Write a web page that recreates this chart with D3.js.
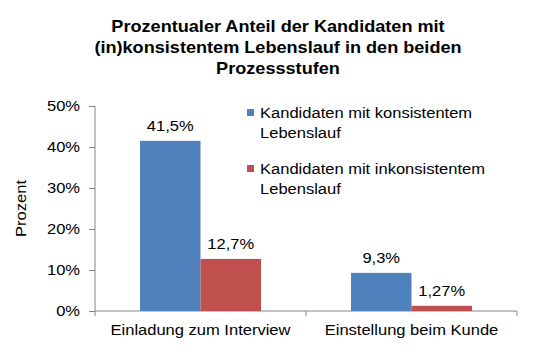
<!DOCTYPE html>
<html>
<head>
<meta charset="utf-8">
<script src="https://cdn.jsdelivr.net/npm/d3@7"></script>
<style>
  body { margin: 0; background: #fff; }
  text { font-family: "Liberation Sans", Arial, sans-serif; fill: #000; }
  .title { font-weight: bold; font-size: 17px; }
  .axis path, .axis line { stroke: #868686; }
  .axis text { font-size: 14px; }
</style>
</head>
<body>
<div id="vis"></div>
<script>
var categories = ['Einladung zum Interview', 'Einstellung beim Kunde'];
var seriesNames = ['Kandidaten mit konsistentem Lebenslauf', 'Kandidaten mit inkonsistentem Lebenslauf'];
var consistent = [41.5, 9.3];
var inconsistent = [12.7, 1.27];
var valueLabels = [['41,5%', '9,3%'], ['12,7%', '1,27%']];
var yTicks = [0, 10, 20, 30, 40, 50];
var colors = ['#4F81BD', '#C0504D'];

var width = 536, height = 363;
var margin = { left: 95, right: 19, top: 106, bottom: 52 };
var drawWidth = width - margin.left - margin.right;
var drawHeight = height - margin.top - margin.bottom;
var stretch = 1.18; // text in the picture is a bit wider than normal Arial
var titleStretch = 1.065;

var svg = d3.select('#vis').append('svg')
    .attr('width', width)
    .attr('height', height);

// title
var titleLines = ['Prozentualer Anteil der Kandidaten mit', '(in)konsistentem Lebenslauf in den beiden', 'Prozessstufen'];
svg.append('text')
    .attr('class', 'title')
    .attr('text-anchor', 'middle')
    .selectAll('tspan').data(titleLines).enter().append('tspan')
    .attr('class', 'tl')
    .attr('x', 278)
    .attr('y', function(d, i) { return 32 + i * 21; })
    .text(function(d) { return d; });

var g = svg.append('g')
    .attr('transform', 'translate(' + margin.left + ',' + margin.top + ')');

var xScale = d3.scaleBand().domain(categories).range([0, drawWidth]);
var xInner = d3.scaleBand().domain([0, 1]).range([45, xScale.bandwidth() - 45]);
var yScale = d3.scaleLinear().domain([0, 50]).range([drawHeight, 0]);

var yAxis = d3.axisLeft(yScale).tickValues(yTicks).tickSize(6).tickPadding(9)
    .tickFormat(function(d) { return d + '%'; });
var yAxisG = g.append('g').attr('class', 'axis').call(yAxis);
yAxisG.select('.domain').attr('d', 'M0,0V' + drawHeight);

// x axis
var xAxisG = g.append('g').attr('class', 'axis')
    .attr('transform', 'translate(0,' + drawHeight + ')');
xAxisG.append('line').attr('x1', 0).attr('x2', drawWidth);
xAxisG.selectAll('.tk').data([0, 1, 2]).enter().append('line')
    .attr('x1', function(d) { return d * xScale.step(); })
    .attr('x2', function(d) { return d * xScale.step(); })
    .attr('y1', 0).attr('y2', 5);
xAxisG.selectAll('.cat').data(categories).enter().append('text')
    .attr('x', function(d) { return xScale(d) + xScale.bandwidth() / 2; })
    .attr('y', 24)
    .attr('text-anchor', 'middle')
    .text(function(d) { return d; });

g.append('text')
    .attr('transform', 'translate(-69,' + (drawHeight / 2) + ') rotate(-90)')
    .attr('text-anchor', 'middle')
    .style('font-size', '14px')
    .text('Prozent');

var series = [consistent, inconsistent];
series.forEach(function(vals, s) {
    var grp = g.append('g');
    grp.selectAll('rect').data(vals).enter().append('rect')
        .attr('x', function(d, i) { return xScale(categories[i]) + xInner(s); })
        .attr('width', xInner.bandwidth())
        .attr('y', function(d) { return yScale(d); })
        .attr('height', function(d) { return drawHeight - yScale(d); })
        .attr('fill', colors[s]);
    grp.selectAll('text').data(vals).enter().append('text')
        .attr('x', function(d, i) { return xScale(categories[i]) + xInner(s) + xInner.bandwidth() / 2; })
        .attr('y', function(d) { return yScale(d) - 10; })
        .attr('text-anchor', 'middle')
        .style('font-size', '14px')
        .text(function(d, i) { return valueLabels[s][i]; });
});

// legend
var legend = svg.append('g').attr('transform', 'translate(247,0)');
var legendLines = [['Kandidaten mit konsistentem', 'Lebenslauf'], ['Kandidaten mit inkonsistentem', 'Lebenslauf']];
legendLines.forEach(function(lines, s) {
    var y0 = 113 + s * 56;
    legend.append('rect')
        .attr('x', 0).attr('y', y0 - 4).attr('width', 7).attr('height', 7)
        .attr('fill', colors[s]);
    legend.append('text')
        .style('font-size', '14px')
        .selectAll('tspan').data(lines).enter().append('tspan')
        .attr('x', 13)
        .attr('y', function(d, i) { return y0 + 5 + i * 20; })
        .text(function(d) { return d; });
});

// widen all text a little
svg.selectAll('tspan').each(function() {
    var w = this.getComputedTextLength();
    var k = this.getAttribute('class') === 'tl' ? titleStretch : stretch;
    d3.select(this).attr('textLength', w * k).attr('lengthAdjust', 'spacingAndGlyphs');
});
svg.selectAll('text').filter(function() { return this.querySelector('tspan') === null; }).each(function() {
    var w = this.getComputedTextLength();
    d3.select(this).attr('textLength', w * stretch).attr('lengthAdjust', 'spacingAndGlyphs');
});
</script>
</body>
</html>
